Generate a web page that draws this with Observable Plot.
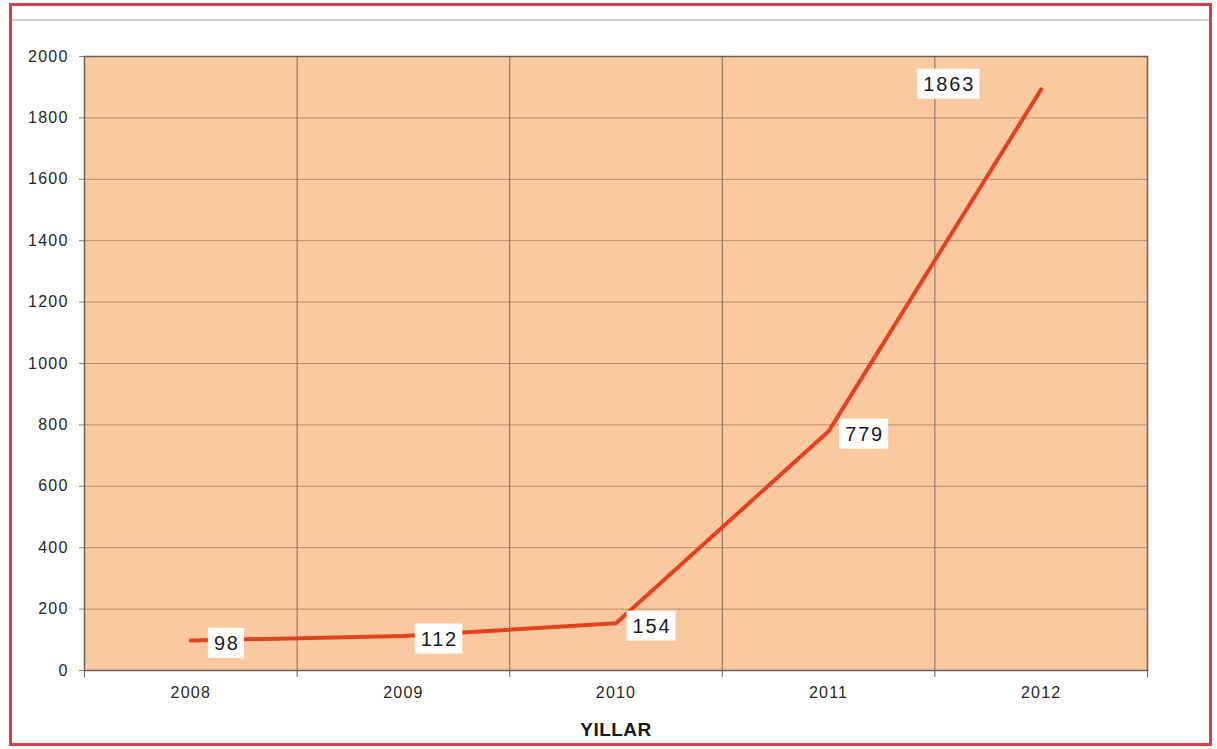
<!DOCTYPE html>
<html>
<head>
<meta charset="utf-8">
<script src="https://cdn.jsdelivr.net/npm/d3@7"></script>
<script src="https://cdn.jsdelivr.net/npm/@observablehq/plot@0.6"></script>
<style>
  html, body { margin: 0; padding: 0; background: #ffffff; }
  #wrap { position: relative; width: 1217px; height: 749px; overflow: hidden; background: #ffffff; }
  #border { position: absolute; left: 9px; top: 3px; width: 1203px; height: 743px; border: 3px solid #d2404a; box-sizing: border-box; pointer-events: none; }
  #topline { position: absolute; left: 12px; top: 19px; width: 1197px; height: 2px; background: #cfcfcf; }
  #chart { position: absolute; left: 0; top: 0; }
</style>
</head>
<body>
<div id="wrap">
  <div id="topline"></div>
  <div id="chart"></div>
  <div id="border"></div>
</div>
<script>
const years = [2008, 2009, 2010, 2011, 2012];
const values = [98, 112, 154, 779, 1893];
const labels = ["98", "112", "154", "779", "1863"];
const yTicks = [0, 200, 400, 600, 800, 1000, 1200, 1400, 1600, 1800, 2000];
const xTitle = "YILLAR";

const data = years.map((y, i) => ({year: y, value: values[i], label: labels[i]}));
const boundaries = [years[0] - 0.5, ...years.map(y => y + 0.5)];
const lastIdx = data.length - 1;

const chart = Plot.plot({
  width: 1217,
  height: 749,
  marginLeft: 84,
  marginRight: 70,
  marginTop: 56,
  marginBottom: 79,
  x: {domain: [boundaries[0], boundaries[boundaries.length - 1]]},
  y: {domain: [0, 2000]},
  style: {fontFamily: "'Liberation Sans', Arial, sans-serif", background: "transparent", color: "#222"},
  marks: [
    Plot.frame({fill: "#fbc9a0", stroke: "none"}),
    Plot.gridY(yTicks, {stroke: "#b98d6c", strokeOpacity: 1, strokeWidth: 1}),
    Plot.gridX(boundaries.slice(1, -1), {stroke: "#7d6c5e", strokeOpacity: 1, strokeWidth: 1}),
    Plot.frame({stroke: "#6b6057", strokeWidth: 1.5}),
    Plot.axisY(yTicks, {tickSize: 5, tickPadding: 11, fontSize: 16, tickFormat: d => String(d), label: null, stroke: "#8a7a6c", fill: "#262626"}),
    Plot.axisX(years, {tickSize: 0, tickPadding: 16, fontSize: 16, tickFormat: d => String(d), label: null, fill: "#262626"}),
    Plot.axisX(boundaries, {tickSize: 7, tickFormat: () => "", label: null, stroke: "#6b6057"}),
    Plot.line(data, {x: "year", y: "value", stroke: "#e3421f", strokeWidth: 4}),
    Plot.text(data.filter((d, i) => i < lastIdx), {x: "year", y: "value", text: "label", dx: 36, dy: 3, fontSize: 20, fill: "#1a1a1a"}),
    Plot.text(data.filter((d, i) => i === lastIdx), {x: "year", y: "value", text: "label", dx: -92, dy: -5, fontSize: 20, fill: "#1a1a1a"}),
    Plot.text([xTitle], {frameAnchor: "bottom", dy: 65, fontWeight: "bold", fontSize: 19, fill: "#1a1a1a"})
  ]
});

document.getElementById("chart").appendChild(chart);

const svgEl = chart.tagName.toLowerCase() === "svg" ? chart : chart.querySelector("svg");
const svg = d3.select(svgEl);

// widen glyph spacing of axis tick labels
svg.selectAll('g[aria-label="y-axis tick label"] text, g[aria-label="x-axis tick label"] text')
  .attr("letter-spacing", "1.2px");

// value labels: spacing + white boxes behind them
svg.selectAll('g[aria-label="text"] text').each(function() {
  const t = this.textContent;
  if (t === xTitle) { this.setAttribute("letter-spacing", "0.5px"); return; }
  if (!labels.includes(t)) return;
  this.setAttribute("letter-spacing", "1.8px");
  const bb = this.getBBox();
  const tr = this.getAttribute("transform");
  const padX = 6, padY = 4;
  const r = document.createElementNS("http://www.w3.org/2000/svg", "rect");
  r.setAttribute("x", bb.x - padX);
  r.setAttribute("y", bb.y - padY);
  r.setAttribute("width", bb.width + 2 * padX - 1.8);
  r.setAttribute("height", bb.height + 2 * padY);
  r.setAttribute("fill", "#ffffff");
  if (tr) r.setAttribute("transform", tr);
  this.parentNode.insertBefore(r, this);
});
</script>
</body>
</html>
